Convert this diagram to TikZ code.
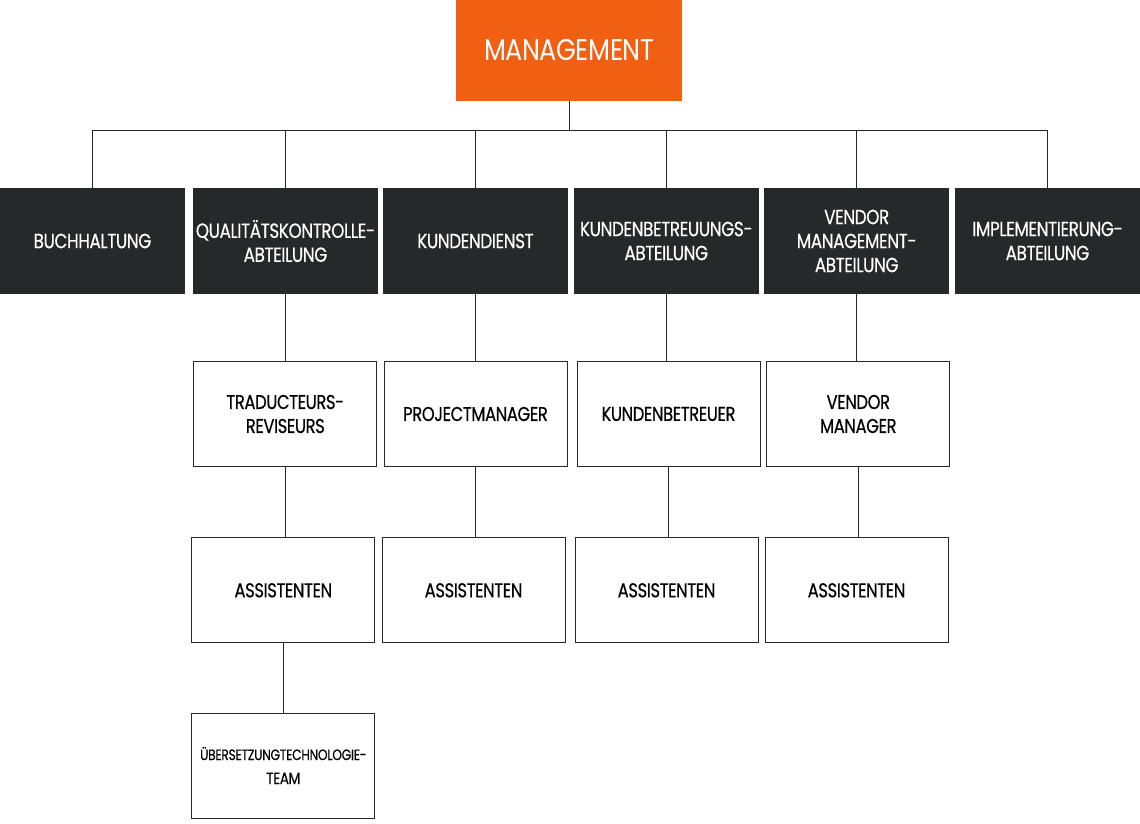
\documentclass[tikz,border=0pt]{standalone}
\usepackage{fontspec}
\setmainfont{Poppins}[FakeStretch=0.82, LetterSpace=-2, FakeBold=0.45]
\newfontfamily\headfont{Poppins}[FakeStretch=0.85, LetterSpace=-1.5]
\usepackage{tikz}
\definecolor{mgmtorange}{HTML}{F05F12}
\definecolor{deptgray}{HTML}{27282A}
\tikzstyle{head}=[rectangle, fill=mgmtorange, text=white, minimum width=226pt, minimum height=101pt, inner sep=0pt, font=\headfont\fontsize{30}{34}\selectfont]
\tikzstyle{dept}=[rectangle, fill=deptgray, text=white, minimum width=185pt, minimum height=106pt, inner sep=0pt, align=center, font=\fontsize{20.5}{24}\selectfont]
\tikzstyle{unit}=[rectangle, draw=deptgray, line width=1pt, text=black, minimum width=183pt, minimum height=105pt, inner sep=0pt, align=center, font=\fontsize{20}{24}\selectfont]
\tikzstyle{link}=[draw=deptgray, line width=1pt]

\begin{document}
\begin{tikzpicture}[x=1pt, y=-1pt]
    \useasboundingbox (0, 0) rectangle (1140, 824);
    \node[head] (mgmt) at (569, 50.5) {MANAGEMENT};
    \coordinate (bar) at (569, 131);

    % departments
    \node[dept] (buch) at (92.5, 241) {BUCHHALTUNG};
    \node[dept] (qual) at (285.5, 241) {QUALITÄTSKONTROLLE-\\ABTEILUNG};
    \node[dept] (kund) at (475.5, 241) {KUNDENDIENST};
    \node[dept] (kbtr) at (666.3, 241) {KUNDENBETREUUNGS-\\ABTEILUNG};
    \node[dept] (vend) at (856.7, 241) {VENDOR\\MANAGEMENT-\\ABTEILUNG};
    \node[dept] (impl) at (1047.5, 241) {IMPLEMENTIERUNG-\\ABTEILUNG};

    % staff
    \node[unit] (trad) at (285.3, 414) {TRADUCTEURS-\\REVISEURS};
    \node[unit] (proj) at (475.5, 414) {PROJECTMANAGER};
    \node[unit] (kbet) at (668.5, 414) {KUNDENBETREUER};
    \node[unit] (vman) at (858.3, 414) {VENDOR\\MANAGER};

    \node[unit] (asqu) at (283.3, 590.3) {ASSISTENTEN};
    \node[unit] (aspr) at (473.5, 590.3) {ASSISTENTEN};
    \node[unit] (askb) at (666.5, 590.3) {ASSISTENTEN};
    \node[unit] (asvm) at (856.5, 590.3) {ASSISTENTEN};

    \node[unit] (team) at (283.3, 765.5) {{\fontsize{15}{25}\selectfont ÜBERSETZUNGTECHNOLOGIE-}\\{\fontsize{16.5}{25}\selectfont TEAM}};

    \draw[link] (mgmt.south) -- (bar);
    \foreach \d in {buch, qual, kund, kbtr, vend, impl}
        \draw[link] (bar) -| (\d.north);
    \draw[link]
        (qual.south) -- (qual.south |- trad.north)
        (kund.south) -- (kund.south |- proj.north)
        (kbtr.south) -- (kbtr.south |- kbet.north)
        (vend.south) -- (vend.south |- vman.north)
        (trad.south) -- (trad.south |- asqu.north)
        (proj.south) -- (proj.south |- aspr.north)
        (kbet.south) -- (kbet.south |- askb.north)
        (vman.south) -- (vman.south |- asvm.north)
        (asqu.south) -- (asqu.south |- team.north)
    ;
\end{tikzpicture}
\end{document}
